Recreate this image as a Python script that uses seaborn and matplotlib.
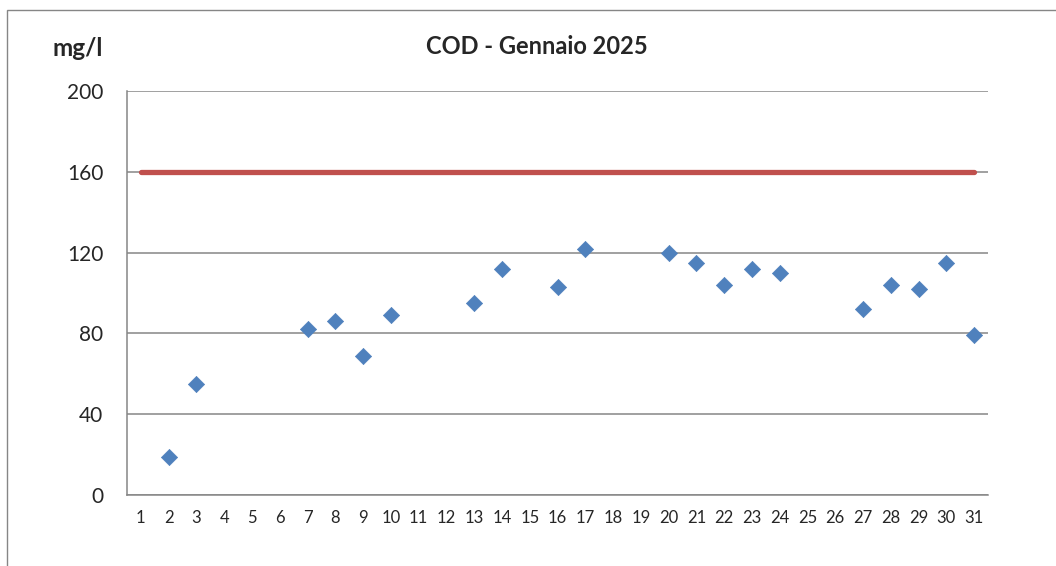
import numpy as np
import pandas as pd
import matplotlib
matplotlib.use("Agg")
import matplotlib.pyplot as plt
from matplotlib.patches import Rectangle
import seaborn as sns

# COD daily values (mg/l), January 2025 - days without a sample are missing
days = list(range(1, 32))
sample_days = [2, 3, 7, 8, 9, 10, 13, 14, 16, 17, 20, 21, 22, 23, 24, 27, 28, 29, 30, 31]
cod_values = [19, 55, 82, 86, 69, 89, 95, 112, 103, 122, 120, 115, 104, 112, 110, 92, 104, 102, 115, 79]
limit_value = 160
y_ticks = [0, 40, 80, 120, 160, 200]

GRID = "#868686"
BLUE = "#4F81BD"
RED = "#C0504D"

sns.set_style("white")
plt.rcParams["font.family"] = ["Lato", "DejaVu Sans"]

samples = pd.DataFrame({"day": sample_days, "cod": cod_values})
limit = pd.DataFrame({"day": days, "limit": [limit_value] * len(days)})

fig = plt.figure(figsize=(10.56, 5.66), dpi=100)
ax = fig.add_axes([127 / 1056, 1 - 495 / 566, (988 - 127) / 1056, (495 - 91) / 566])

# outer chart border (cut off on the right/bottom like the source)
fig.patches.append(Rectangle((7 / 1056, -0.1), 1.2, 1 - 10 / 566 + 0.1,
                             transform=fig.transFigure, fill=False,
                             edgecolor=GRID, linewidth=1.0))

sns.lineplot(data=limit, x="day", y="limit", ax=ax, color=RED, linewidth=3.8,
             solid_capstyle="round", zorder=3)
sns.scatterplot(data=samples, x="day", y="cod", ax=ax, marker="D", s=68,
                color=BLUE, edgecolor=BLUE, linewidth=0.5, zorder=4)

ax.set_xlim(0.5, 31.5)
ax.set_ylim(0, 200)
ax.set_yticks(y_ticks)
ax.set_xticks(days)
ax.set_xticklabels([str(d) for d in days])
ax.set_xticks(np.arange(0.5, 32, 1), minor=True)
ax.yaxis.grid(True, color=GRID, linewidth=1.1)
ax.set_axisbelow(True)

ax.tick_params(axis="x", which="major", length=0, pad=11, labelsize=12)
ax.tick_params(axis="x", which="minor", length=5, width=1.1, color=GRID, direction="out")
ax.tick_params(axis="y", length=6, width=1.1, color=GRID, pad=11, labelsize=15)

for side in ["top", "right"]:
    ax.spines[side].set_visible(False)
for side in ["left", "bottom"]:
    ax.spines[side].set_color(GRID)
    ax.spines[side].set_linewidth(1.1)

ax.set_xlabel("")
ax.set_ylabel("")

fig.text(537 / 1056, 1 - 47 / 566, "COD - Gennaio 2025", ha="center", va="center",
         fontsize=17, fontweight="bold")
fig.text(77.5 / 1056, 1 - 48 / 566, "mg/l", ha="center", va="center",
         fontsize=17.5, fontweight="bold")

fig.savefig("out.png", dpi=100)
